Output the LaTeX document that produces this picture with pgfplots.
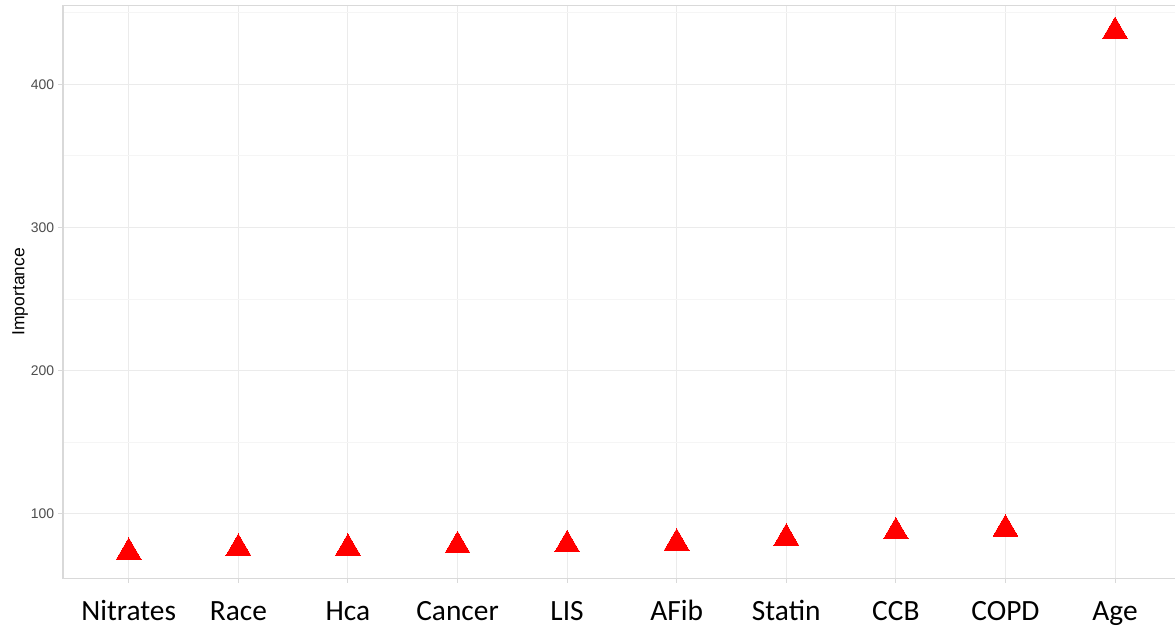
\documentclass[border=0pt]{standalone}
\usepackage{fontspec}
\setmainfont{Liberation Sans}
\newfontfamily\calibri{Carlito}
\usepackage{pgfplots}
\pgfplotsset{compat=1.18}
\definecolor{gridmaj}{HTML}{EBEBEB}
\definecolor{gridmin}{HTML}{F5F5F5}
\definecolor{border}{HTML}{D9D9D9}
\definecolor{ticklab}{HTML}{4D4D4D}
\begin{document}
\begin{tikzpicture}
\begin{axis}[
  scale only axis, width=1112bp, height=573bp,
  xmin=-0.6, xmax=9.547, ymin=54.9, ymax=455.2,
  xtick={0,...,9},
  xticklabels={Nitrates,Race,Hca,Cancer,LIS,AFib,Statin,CCB,COPD,Age},
  ytick={100,200,300,400}, minor ytick={150,250,350,450},
  grid=both,
  major grid style={draw=gridmaj, line width=1bp},
  minor grid style={draw=gridmin, line width=0.8bp},
  axis line style={draw=none},
  tick align=outside, xtick pos=bottom, ytick pos=left,
  major tick length=4.7bp, minor tick length=0pt,
  tick style={draw=border, line width=1bp},
  /pgf/number format/assume math mode=true,
  yticklabel style={font=\fontsize{14}{15}\selectfont, text=ticklab, inner sep=0pt, xshift=-4bp},
  xticklabel style={font=\calibri\fontsize{29.5}{31}\selectfont, text=black, inner sep=0pt, anchor=base, yshift=-38bp},
  ylabel={Importance},
  ylabel style={font=\fontsize{17.6}{18}\selectfont, at={([xshift=-38.7bp]rel axis cs:0,0.5)}, anchor=base},
  clip=false,
]
\draw[border, line width=1.5bp] (rel axis cs:0,1) -- (rel axis cs:0,0) -- (rel axis cs:1,0);
\draw[border, line width=1.5bp] (rel axis cs:0,1) -- (rel axis cs:1,1);
\coordinate (BL) at (rel axis cs:0,0);
\coordinate (TR) at (rel axis cs:1,1);
\addplot[only marks, mark=triangle*, mark size=14.3bp, mark options={fill=red, draw=red, line width=0pt}]
  coordinates {(0,73.1) (1,75.9) (2,76.0) (3,77.7) (4,78.4) (5,79.5) (6,83.0) (7,87.4) (8,89.3) (9,437.0)};
\end{axis}
\pgfresetboundingbox
\path[use as bounding box] ([shift={(-63bp,-47.7bp)}]BL) rectangle ([shift={(0bp,5.3bp)}]TR);
\end{tikzpicture}
\end{document}
